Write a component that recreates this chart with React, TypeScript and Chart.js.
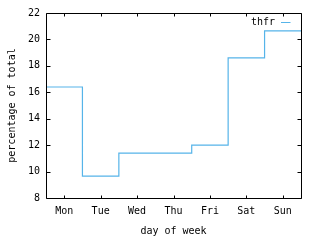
import React, { useEffect, useRef } from 'react';
import { Chart, registerables } from 'chart.js';

Chart.register(...registerables);

const days = ['Mon', 'Tue', 'Wed', 'Thu', 'Fri', 'Sat', 'Sun'];
const thfr = [16.4, 9.65, 11.4, 11.4, 12.0, 18.6, 20.65];
const yTicks = [8, 10, 12, 14, 16, 18, 20, 22];
const seriesName = 'thfr';
const xTitle = 'day of week';
const yTitle = 'percentage of total';

const FONT = 'DejaVu Sans Mono';
const LINE = 'rgb(86,180,233)';

const framePlugin = {
  id: 'frame',
  afterDraw(chart: any) {
    const { ctx, chartArea: a, scales } = chart;
    const x = scales.x;
    const y = scales.y;
    ctx.save();
    ctx.strokeStyle = '#000';
    ctx.lineWidth = 1;
    const L = a.left + 0.5, R = a.right + 0.5, T = a.top + 0.5, B = a.bottom + 0.5;
    ctx.beginPath();
    ctx.rect(L, T, R - L, B - T);
    x.ticks.forEach((t: any) => {
      const px = Math.round(x.getPixelForValue(t.value)) + 0.5;
      ctx.moveTo(px, B); ctx.lineTo(px, B - 3);
      ctx.moveTo(px, T); ctx.lineTo(px, T + 3);
    });
    y.ticks.forEach((t: any) => {
      const py = Math.round(y.getPixelForValue(t.value)) + 0.5;
      ctx.moveTo(L, py); ctx.lineTo(L + 4, py);
      ctx.moveTo(R, py); ctx.lineTo(R - 4, py);
    });
    ctx.stroke();
    // legend (gnuplot style: text then sample)
    ctx.font = `10px "${FONT}"`;
    ctx.fillStyle = '#000';
    ctx.textAlign = 'right';
    ctx.textBaseline = 'middle';
    ctx.fillText(seriesName, R - 26.5, a.top + 9.5);
    ctx.strokeStyle = LINE;
    ctx.beginPath();
    ctx.moveTo(R - 20.5, a.top + 9.5);
    ctx.lineTo(R - 11, a.top + 9.5);
    ctx.stroke();
    ctx.restore();
  },
};

export default function App() {
  const ref = useRef<HTMLCanvasElement | null>(null);
  useEffect(() => {
    if (!ref.current) return;
    const pts = thfr.map((v, i) => ({ x: i - 0.5, y: v }));
    pts.push({ x: days.length - 0.5, y: thfr[thfr.length - 1] });
    const chart = new Chart(ref.current, {
      type: 'line',
      data: {
        datasets: [
          {
            label: seriesName,
            data: pts,
            stepped: 'before',
            borderColor: LINE,
            borderWidth: 1.2,
            pointRadius: 0,
            fill: false,
          },
        ],
      },
      options: {
        animation: false,
        responsive: false,
        devicePixelRatio: 1,
        layout: { padding: { left: 0, right: 19, top: 13, bottom: 0 } },
        plugins: { legend: { display: false }, tooltip: { enabled: false } },
        scales: {
          x: {
            type: 'linear',
            min: -0.5,
            max: days.length - 0.5,
            afterBuildTicks: (s: any) => {
              s.ticks = days.map((_, i) => ({ value: i }));
            },
            afterFit: (s: any) => { s.height = 42; },
            grid: { display: false, drawTicks: false },
            border: { display: false },
            ticks: {
              callback: (v: any) => days[Math.round(Number(v))] ?? '',
              color: '#000',
              font: { family: FONT, size: 10 },
              padding: 7,
              maxRotation: 0,
              autoSkip: false,
            },
            title: {
              display: true,
              text: xTitle,
              color: '#000',
              font: { family: FONT, size: 10 },
              padding: { top: 0, bottom: 3 },
            },
          },
          y: {
            type: 'linear',
            min: yTicks[0],
            max: yTicks[yTicks.length - 1],
            afterBuildTicks: (s: any) => {
              s.ticks = yTicks.map((v) => ({ value: v }));
            },
            afterFit: (s: any) => { s.width = 46; },
            grid: { display: false, drawTicks: false },
            border: { display: false },
            ticks: {
              color: '#000',
              font: { family: FONT, size: 10 },
              padding: 6,
            },
            title: {
              display: true,
              text: yTitle,
              color: '#000',
              font: { family: FONT, size: 10 },
              padding: { top: 6, bottom: 0 },
            },
          },
        },
      },
      plugins: [framePlugin],
    });
    return () => chart.destroy();
  }, []);
  return (
    <div style={{ position: 'fixed', left: 0, top: 0, width: 320, height: 240, background: '#fff' }}>
      <canvas ref={ref} width={320} height={240} style={{ width: 320, height: 240 }} />
    </div>
  );
}
